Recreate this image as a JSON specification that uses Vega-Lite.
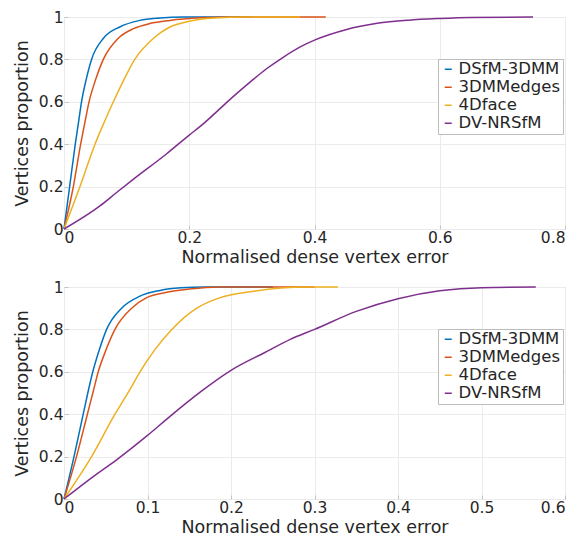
{
  "$schema": "https://vega.github.io/schema/vega-lite/v6.json",
  "background": "white",
  "padding": {"left": 12, "top": 9, "right": 0, "bottom": 0},
  "spacing": 12,
  "config": {
    "font": "DejaVu Sans",
    "view": {"stroke": "#c4c4c4", "strokeWidth": 1},
    "axis": {
      "labelFont": "DejaVu Sans", "titleFont": "DejaVu Sans",
      "labelColor": "#262626", "titleColor": "#262626",
      "labelFontSize": 15.5, "titleFontSize": 17.5, "titleFontWeight": "normal",
      "gridColor": "#ebebeb", "gridOpacity": 1,
      "domain": false, "tickColor": "#c4c4c4", "tickSize": -4,
      "labelPadding": 5
    },
    "legend": {
      "labelFont": "DejaVu Sans", "labelFontSize": 16.5, "labelColor": "#262626"
    }
  },
  "datasets": {
    "top": [
      {"method": "DSfM-3DMM", "x": 0, "y": 0},
      {"method": "DSfM-3DMM", "x": 0.009, "y": 0.2},
      {"method": "DSfM-3DMM", "x": 0.018, "y": 0.4},
      {"method": "DSfM-3DMM", "x": 0.0235, "y": 0.51},
      {"method": "DSfM-3DMM", "x": 0.028, "y": 0.6},
      {"method": "DSfM-3DMM", "x": 0.035, "y": 0.7},
      {"method": "DSfM-3DMM", "x": 0.044, "y": 0.8},
      {"method": "DSfM-3DMM", "x": 0.063, "y": 0.9},
      {"method": "DSfM-3DMM", "x": 0.089, "y": 0.953},
      {"method": "DSfM-3DMM", "x": 0.121, "y": 0.984},
      {"method": "DSfM-3DMM", "x": 0.153, "y": 0.995},
      {"method": "DSfM-3DMM", "x": 0.19, "y": 1},
      {"method": "DSfM-3DMM", "x": 0.3, "y": 1},
      {"method": "3DMMedges", "x": 0, "y": 0},
      {"method": "3DMMedges", "x": 0.0149, "y": 0.2},
      {"method": "3DMMedges", "x": 0.0266, "y": 0.4},
      {"method": "3DMMedges", "x": 0.0335, "y": 0.505},
      {"method": "3DMMedges", "x": 0.04, "y": 0.6},
      {"method": "3DMMedges", "x": 0.05, "y": 0.7},
      {"method": "3DMMedges", "x": 0.0628, "y": 0.8},
      {"method": "3DMMedges", "x": 0.0868, "y": 0.9},
      {"method": "3DMMedges", "x": 0.111, "y": 0.945},
      {"method": "3DMMedges", "x": 0.137, "y": 0.969},
      {"method": "3DMMedges", "x": 0.169, "y": 0.984},
      {"method": "3DMMedges", "x": 0.22, "y": 0.996},
      {"method": "3DMMedges", "x": 0.27, "y": 1},
      {"method": "3DMMedges", "x": 0.418, "y": 1},
      {"method": "4Dface", "x": 0, "y": 0},
      {"method": "4Dface", "x": 0.0255, "y": 0.2},
      {"method": "4Dface", "x": 0.0495, "y": 0.4},
      {"method": "4Dface", "x": 0.0644, "y": 0.505},
      {"method": "4Dface", "x": 0.0788, "y": 0.6},
      {"method": "4Dface", "x": 0.095, "y": 0.7},
      {"method": "4Dface", "x": 0.113, "y": 0.8},
      {"method": "4Dface", "x": 0.143, "y": 0.9},
      {"method": "4Dface", "x": 0.169, "y": 0.953},
      {"method": "4Dface", "x": 0.2, "y": 0.98},
      {"method": "4Dface", "x": 0.24, "y": 0.995},
      {"method": "4Dface", "x": 0.29, "y": 1},
      {"method": "4Dface", "x": 0.377, "y": 1},
      {"method": "DV-NRSfM", "x": 0, "y": 0},
      {"method": "DV-NRSfM", "x": 0.058, "y": 0.11},
      {"method": "DV-NRSfM", "x": 0.084, "y": 0.172},
      {"method": "DV-NRSfM", "x": 0.111, "y": 0.235},
      {"method": "DV-NRSfM", "x": 0.164, "y": 0.355},
      {"method": "DV-NRSfM", "x": 0.2, "y": 0.443},
      {"method": "DV-NRSfM", "x": 0.218, "y": 0.485},
      {"method": "DV-NRSfM", "x": 0.271, "y": 0.627},
      {"method": "DV-NRSfM", "x": 0.3, "y": 0.7},
      {"method": "DV-NRSfM", "x": 0.324, "y": 0.757},
      {"method": "DV-NRSfM", "x": 0.35, "y": 0.81},
      {"method": "DV-NRSfM", "x": 0.378, "y": 0.86},
      {"method": "DV-NRSfM", "x": 0.401, "y": 0.892},
      {"method": "DV-NRSfM", "x": 0.45, "y": 0.94},
      {"method": "DV-NRSfM", "x": 0.5, "y": 0.97},
      {"method": "DV-NRSfM", "x": 0.55, "y": 0.985},
      {"method": "DV-NRSfM", "x": 0.6, "y": 0.993},
      {"method": "DV-NRSfM", "x": 0.65, "y": 0.998},
      {"method": "DV-NRSfM", "x": 0.749, "y": 1}
    ],
    "bottom": [
      {"method": "DSfM-3DMM", "x": 0, "y": 0},
      {"method": "DSfM-3DMM", "x": 0.012, "y": 0.2},
      {"method": "DSfM-3DMM", "x": 0.023, "y": 0.4},
      {"method": "DSfM-3DMM", "x": 0.0285, "y": 0.5},
      {"method": "DSfM-3DMM", "x": 0.0345, "y": 0.6},
      {"method": "DSfM-3DMM", "x": 0.042, "y": 0.7},
      {"method": "DSfM-3DMM", "x": 0.051, "y": 0.8},
      {"method": "DSfM-3DMM", "x": 0.069, "y": 0.9},
      {"method": "DSfM-3DMM", "x": 0.091, "y": 0.957},
      {"method": "DSfM-3DMM", "x": 0.115, "y": 0.984},
      {"method": "DSfM-3DMM", "x": 0.14, "y": 0.996},
      {"method": "DSfM-3DMM", "x": 0.17, "y": 1},
      {"method": "DSfM-3DMM", "x": 0.25, "y": 1},
      {"method": "3DMMedges", "x": 0, "y": 0},
      {"method": "3DMMedges", "x": 0.015, "y": 0.2},
      {"method": "3DMMedges", "x": 0.028, "y": 0.4},
      {"method": "3DMMedges", "x": 0.035, "y": 0.507},
      {"method": "3DMMedges", "x": 0.041, "y": 0.6},
      {"method": "3DMMedges", "x": 0.05, "y": 0.7},
      {"method": "3DMMedges", "x": 0.061, "y": 0.8},
      {"method": "3DMMedges", "x": 0.081, "y": 0.9},
      {"method": "3DMMedges", "x": 0.099, "y": 0.95},
      {"method": "3DMMedges", "x": 0.123, "y": 0.975},
      {"method": "3DMMedges", "x": 0.15, "y": 0.99},
      {"method": "3DMMedges", "x": 0.185, "y": 1},
      {"method": "3DMMedges", "x": 0.3, "y": 1},
      {"method": "4Dface", "x": 0, "y": 0},
      {"method": "4Dface", "x": 0.033, "y": 0.2},
      {"method": "4Dface", "x": 0.061, "y": 0.4},
      {"method": "4Dface", "x": 0.078, "y": 0.51},
      {"method": "4Dface", "x": 0.091, "y": 0.6},
      {"method": "4Dface", "x": 0.108, "y": 0.7},
      {"method": "4Dface", "x": 0.128, "y": 0.795},
      {"method": "4Dface", "x": 0.159, "y": 0.9},
      {"method": "4Dface", "x": 0.187, "y": 0.95},
      {"method": "4Dface", "x": 0.227, "y": 0.98},
      {"method": "4Dface", "x": 0.26, "y": 0.995},
      {"method": "4Dface", "x": 0.29, "y": 1},
      {"method": "4Dface", "x": 0.328, "y": 1},
      {"method": "DV-NRSfM", "x": 0, "y": 0},
      {"method": "DV-NRSfM", "x": 0.035, "y": 0.106},
      {"method": "DV-NRSfM", "x": 0.063, "y": 0.185},
      {"method": "DV-NRSfM", "x": 0.1, "y": 0.3},
      {"method": "DV-NRSfM", "x": 0.127, "y": 0.39},
      {"method": "DV-NRSfM", "x": 0.165, "y": 0.51},
      {"method": "DV-NRSfM", "x": 0.2, "y": 0.607},
      {"method": "DV-NRSfM", "x": 0.24, "y": 0.69},
      {"method": "DV-NRSfM", "x": 0.271, "y": 0.753},
      {"method": "DV-NRSfM", "x": 0.3, "y": 0.8},
      {"method": "DV-NRSfM", "x": 0.35, "y": 0.885},
      {"method": "DV-NRSfM", "x": 0.4, "y": 0.945},
      {"method": "DV-NRSfM", "x": 0.45, "y": 0.982},
      {"method": "DV-NRSfM", "x": 0.5, "y": 0.997},
      {"method": "DV-NRSfM", "x": 0.565, "y": 1}
    ]
  },
  "resolve": {"scale": {"color": "independent", "x": "independent"}, "legend": {"color": "independent"}},
  "vconcat": [
    {
      "width": 501, "height": 212,
      "data": {"name": "top"},
      "mark": {"type": "line", "strokeWidth": 1.5, "interpolate": "monotone"},
      "encoding": {
        "x": {"field": "x", "type": "quantitative", "scale": {"domain": [0, 0.8], "nice": false},
              "axis": {"values": [0, 0.2, 0.4, 0.6, 0.8], "format": "~g", "title": "Normalised dense vertex error", "titlePadding": 3}},
        "y": {"field": "y", "type": "quantitative", "scale": {"domain": [0, 1], "nice": false},
              "axis": {"values": [0, 0.2, 0.4, 0.6, 0.8, 1], "format": "~g", "title": "Vertices proportion", "titlePadding": 7}},
        "color": {"field": "method", "type": "nominal",
                  "scale": {"domain": ["DSfM-3DMM", "3DMMedges", "4Dface", "DV-NRSfM"], "range": ["#0072BD", "#D95319", "#EDB120", "#7E2F8E"]},
                  "legend": {"title": null, "orient": "none", "legendX": 374, "legendY": 42, "symbolType": "stroke", "symbolSize": 49, "symbolStrokeWidth": 1.5, "strokeColor": "#bdbdbd", "fillColor": "white", "padding": 2, "labelOffset": 2, "rowPadding": 1}},
        "order": {"field": "x", "type": "quantitative"}
      }
    },
    {
      "width": 501, "height": 212,
      "data": {"name": "bottom"},
      "mark": {"type": "line", "strokeWidth": 1.5, "interpolate": "monotone"},
      "encoding": {
        "x": {"field": "x", "type": "quantitative", "scale": {"domain": [0, 0.6], "nice": false},
              "axis": {"values": [0, 0.1, 0.2, 0.3, 0.4, 0.5, 0.6], "format": "~g", "title": "Normalised dense vertex error", "titlePadding": 3}},
        "y": {"field": "y", "type": "quantitative", "scale": {"domain": [0, 1], "nice": false},
              "axis": {"values": [0, 0.2, 0.4, 0.6, 0.8, 1], "format": "~g", "title": "Vertices proportion", "titlePadding": 7}},
        "color": {"field": "method", "type": "nominal",
                  "scale": {"domain": ["DSfM-3DMM", "3DMMedges", "4Dface", "DV-NRSfM"], "range": ["#0072BD", "#D95319", "#EDB120", "#7E2F8E"]},
                  "legend": {"title": null, "orient": "none", "legendX": 374, "legendY": 42, "symbolType": "stroke", "symbolSize": 49, "symbolStrokeWidth": 1.5, "strokeColor": "#bdbdbd", "fillColor": "white", "padding": 2, "labelOffset": 2, "rowPadding": 1}},
        "order": {"field": "x", "type": "quantitative"}
      }
    }
  ]
}
